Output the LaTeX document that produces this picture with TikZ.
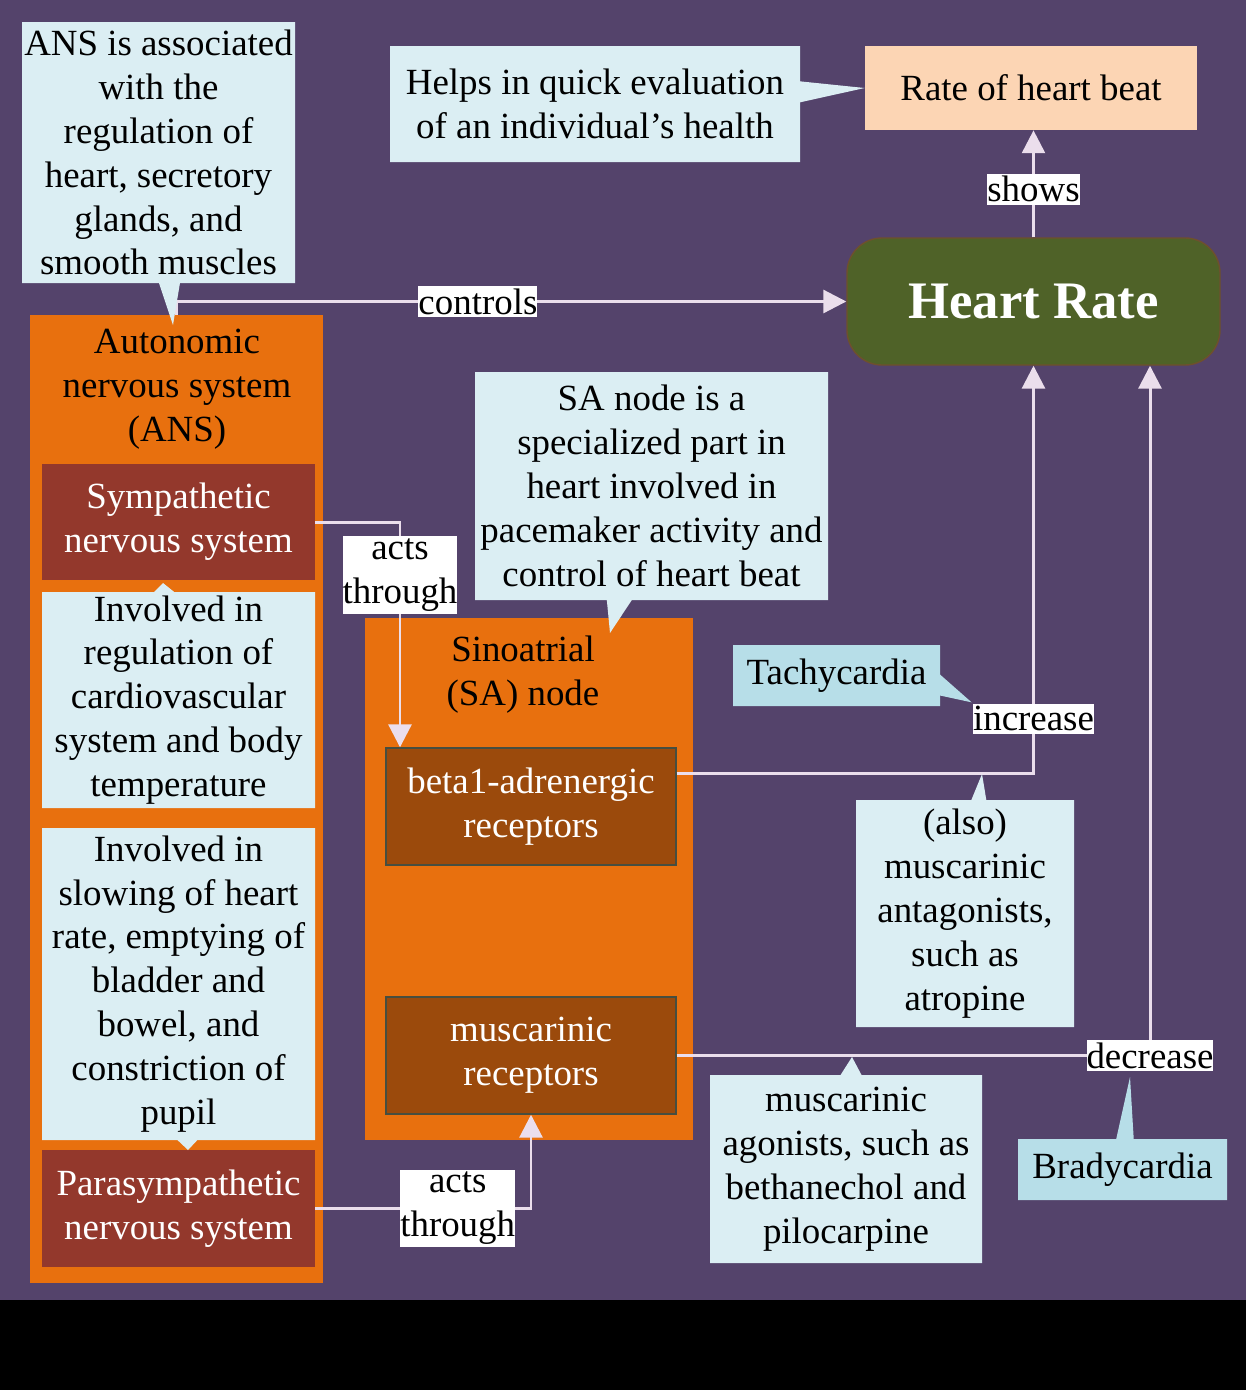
\documentclass[tikz,border=0pt]{standalone}
\usepackage{fontspec}
\setmainfont{Liberation Serif}
\usetikzlibrary{shapes.callouts,arrows.meta}
\definecolor{fondviolet}{RGB}{84,67,107}
\definecolor{orangevif}{RGB}{232,112,14}
\definecolor{rougebrique}{RGB}{147,56,44}
\definecolor{brunrecepteur}{RGB}{155,74,12}
\definecolor{bordrecepteur}{RGB}{70,78,64}
\definecolor{bleuclair}{RGB}{219,238,243}
\definecolor{bleuvif}{RGB}{183,222,232}
\definecolor{peche}{RGB}{252,213,180}
\definecolor{vertolive}{RGB}{79,98,40}
\definecolor{bordvert}{RGB}{110,80,45}
\definecolor{rosefleche}{RGB}{235,222,236}
\begin{document}
\begin{tikzpicture}[x=0.02cm,y=-0.02cm]
	% Dimensions (1 unite = 1 pixel de l'image)
	\def\Pixel{0.02cm}
	% Styles
	\tikzset{taille/.style 2 args={minimum width=#1*\Pixel,minimum height=#2*\Pixel}}
	\tikzstyle{texte}=[align=center,inner sep=0pt,font=\fontsize{21}{25}\selectfont]
	\tikzstyle{boite}=[texte,rectangle]
	\tikzstyle{systeme}=[boite,fill=rougebrique,text=white]
	\tikzstyle{recepteur}=[boite,fill=brunrecepteur,draw=bordrecepteur,line width=0.8pt,text=white]
	\tikzstyle{cadre}=[boite,fill=orangevif]
	\tikzstyle{bulle}=[texte,rectangle callout,fill=bleuclair,callout pointer width=0.42cm]
	\tikzstyle{etiquette}=[texte,fill=white,inner ysep=1.5pt]
	\tikzstyle{fleche}=[draw=rosefleche,line width=1.7pt,-{Triangle[width=13pt,length=13pt]}]
	% Fond
	\fill[fondviolet] (0,0) rectangle (1246,1300);
	\fill[black] (0,1300) rectangle (1246,1390);
	\useasboundingbox (0,0) rectangle (1246,1390);
	% Noeuds
	\node[boite,fill=peche,taille={332}{84}] (Rate) at (1031,88) {Rate of heart beat};
	\node[boite,fill=vertolive,draw=bordvert,line width=0.8pt,rounded corners=0.7cm,taille={373}{127},
		text=white,font=\bfseries\fontsize{30}{36}\selectfont] (HR) at (1033.5,301.5) {Heart Rate};
	\node[cadre,taille={293}{968}] (ANS) at (176.5,799) {};
	\node[texte] (ANStitre) at (177,389) {Autonomic\\nervous system\\(ANS)};
	\node[systeme,taille={273}{116}] (Symp) at (178.5,522) {Sympathetic\\nervous system};
	\node[systeme,taille={273}{117}] (Para) at (178.5,1208.5) {Parasympathetic\\nervous system};
	\node[cadre,taille={328}{522}] (SA) at (529,879) {};
	\node[texte] (SAtitre) at (523,675) {Sinoatrial\\(SA) node};
	\node[recepteur,taille={290}{117}] (beta) at (531,806.5) {beta1-adrenergic\\receptors};
	\node[recepteur,taille={290}{117}] (musc) at (531,1055.5) {muscarinic\\receptors};
	% Pointes des bulles
	\coordinate (pointeANS) at (173,325);
	\coordinate (pointeSymp) at (163,583);
	\coordinate (pointePara) at (188,1150);
	\coordinate (pointeSA) at (610,633);
	\coordinate (pointeAntag) at (982,774);
	\coordinate (pointeAgon) at (852,1057);
	\coordinate (pointeBrady) at (1130,1077);
	% Arcs
	\draw[fleche] (ANS.north) |- (HR.west) node[etiquette,pos=0.725] {controls};
	\draw[fleche] (HR.north) -- (HR.north |- Rate.south) node[etiquette,pos=0.45] {shows};
	\draw[fleche] (Symp.east) -| ([xshift=-131*\Pixel]beta.north) node[etiquette,pos=0.617] (acts1) {acts\\through};
	\draw[fleche] (Para.east) -| (musc.south) node[etiquette,pos=0.33] (acts2) {acts\\through};
	\draw[fleche] ([yshift=33*\Pixel]beta.east) -| (HR.south) node[etiquette,pos=0.567] (increase) {increase};
	\draw[fleche] (musc.east) -| ([xshift=116.5*\Pixel]HR.south) node[etiquette,pos=0.5] (decrease) {decrease};
	% Bulles
	\node[bulle,taille={410}{116},callout absolute pointer={(Rate.west)}] (Helps) at (595,104)
		{Helps in quick evaluation\\of an individual’s health};
	\node[bulle,taille={273}{261},callout absolute pointer={(pointeANS)}] (ANSbulle) at (158.5,152.5)
		{ANS is associated\\with the\\regulation of\\heart, secretory\\glands, and\\smooth muscles};
	\node[bulle,taille={273}{216},callout absolute pointer={(pointeSymp)},callout pointer width=0.4cm] (Regul) at (178.5,700)
		{Involved in\\regulation of\\cardiovascular\\system and body\\temperature};
	\node[bulle,taille={273}{312},callout absolute pointer={(pointePara)},callout pointer width=0.4cm] (Ralent) at (178.5,984)
		{Involved in\\slowing of heart\\rate, emptying of\\bladder and\\bowel, and\\constriction of\\pupil};
	\node[bulle,taille={353}{228},callout absolute pointer={(pointeSA)},callout pointer width=0.5cm] (SAbulle) at (651.5,486)
		{SA node is a\\specialized part in\\heart involved in\\pacemaker activity and\\control of heart beat};
	\node[bulle,fill=bleuvif,taille={207}{61},callout absolute pointer={(increase.north west)}] (Tachy) at (836.5,675.5)
		{Tachycardia};
	\node[bulle,taille={218}{227},callout absolute pointer={(pointeAntag)},callout pointer width=0.3cm] (Antag) at (965,913.5)
		{(also)\\muscarinic\\antagonists,\\such as\\atropine};
	\node[bulle,taille={272}{188},callout absolute pointer={(pointeAgon)}] (Agon) at (846,1169)
		{muscarinic\\agonists, such as\\bethanechol and\\pilocarpine};
	\node[bulle,fill=bleuvif,taille={209}{61},callout absolute pointer={(pointeBrady)},callout pointer width=0.35cm] (Brady) at (1122.5,1169.5)
		{Bradycardia};
\end{tikzpicture}
\end{document}
